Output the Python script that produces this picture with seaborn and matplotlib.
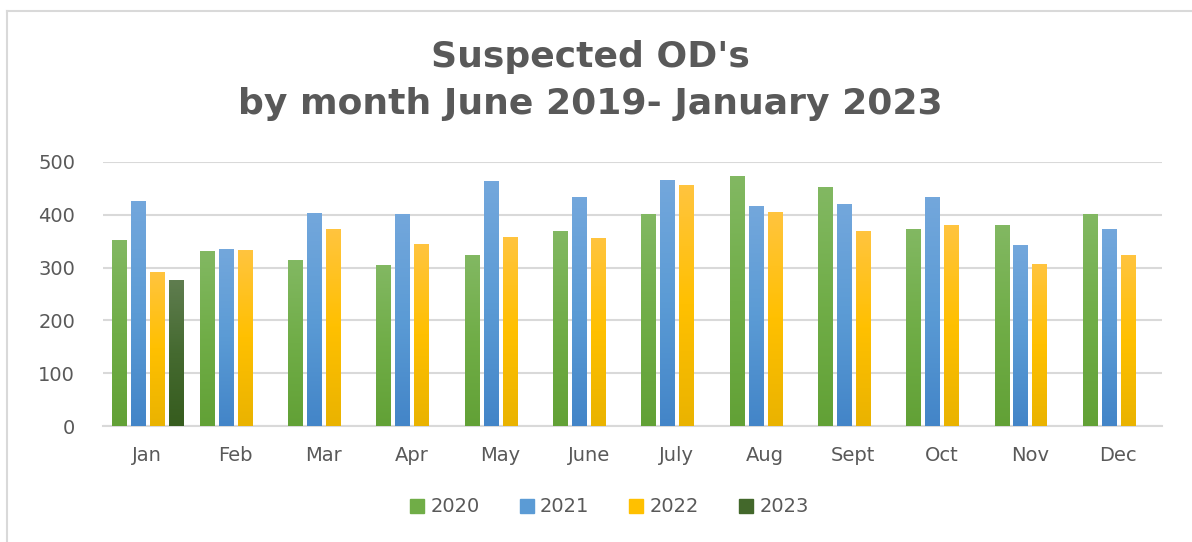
import numpy as np
import pandas as pd
import matplotlib
matplotlib.use('Agg')
import matplotlib.pyplot as plt
from matplotlib.colors import to_rgb
from matplotlib.lines import Line2D
import seaborn as sns

# Dados
meses = ['Jan', 'Feb', 'Mar', 'Apr', 'May', 'June', 'July', 'Aug', 'Sept', 'Oct', 'Nov', 'Dec']
anos = ['2020', '2021', '2022', '2023']
v2020 = [350, 329, 313, 304, 323, 367, 399, 471, 450, 371, 378, 399]
v2021 = [424, 334, 401, 399, 462, 431, 464, 415, 418, 431, 341, 371]
v2022 = [290, 332, 371, 343, 357, 355, 455, 404, 368, 378, 306, 323]
v2023 = [274]

cores = {'2020': '#70ad47', '2021': '#5b9bd5', '2022': '#ffc000', '2023': '#43682b'}
# gradiente (topo, meio, base) no estilo do Excel
gradientes = {
    '2020': ['#82b862', '#70ad47', '#62a136'],
    '2021': ['#73a7dc', '#5b9bd5', '#4385c8'],
    '2022': ['#ffc43e', '#ffc000', '#eab300'],
    '2023': ['#5f7d4f', '#456a30', '#365c1e'],
}

linhas = []
for serie, valores in zip(anos, [v2020, v2021, v2022, v2023]):
    for mes, v in zip(meses, valores):
        linhas.append({'mes': mes, 'ano': serie, 'valor': v})
df = pd.DataFrame(linhas)

cinza = '#595959'
fig = plt.figure(figsize=(11.92, 5.42), dpi=100)
ax = fig.add_axes([0.0864, 0.2135, 0.8888, 0.4882])

sns.barplot(data=df, x='mes', y='valor', hue='ano', order=meses, hue_order=anos,
            palette=cores, width=0.86, gap=0.26, dodge=True, ax=ax,
            legend=False, zorder=3, saturation=1)

# aplica gradiente vertical em cada barra
for bar in ax.patches:
    h = bar.get_height()
    if not np.isfinite(h) or h <= 0:
        continue
    rgb = np.array(to_rgb(bar.get_facecolor()))
    chave = min(cores, key=lambda k: np.abs(np.array(to_rgb(cores[k])) - rgb).sum())
    topo, meio, base = [np.array(to_rgb(c)) for c in gradientes[chave]]
    t = np.linspace(0, 1, 64)[:, None]
    grad = np.where(t < 0.5, topo + (meio - topo) * (t / 0.5), meio + (base - meio) * ((t - 0.5) / 0.5))
    img = grad[:, None, :]
    x0 = bar.get_x()
    ax.imshow(img, extent=[x0, x0 + bar.get_width(), 0, h], aspect='auto',
              origin='upper', zorder=4, interpolation='bilinear')

ax.set_xlim(-0.5, 11.5)
ax.set_ylim(0, 500)
ax.set_yticks([0, 100, 200, 300, 400, 500])
ax.grid(axis='y', color='#d9d9d9', linewidth=1.5, zorder=0)
ax.set_axisbelow(True)
for lado in ['top', 'right', 'left']:
    ax.spines[lado].set_visible(False)
ax.spines['bottom'].set_color('#d9d9d9')
ax.spines['bottom'].set_linewidth(1.5)
ax.tick_params(axis='both', length=0, labelsize=14, labelcolor=cinza)
ax.tick_params(axis='y', pad=20)
ax.tick_params(axis='x', pad=14)
ax.set_xlabel('')
ax.set_ylabel('')

fig.text(0.495, 1 - 57 / 542, "Suspected OD's", ha='center', va='center',
         fontsize=26, fontweight='bold', color=cinza)
fig.text(0.495, 1 - 104 / 542, 'by month June 2019- January 2023', ha='center', va='center',
         fontsize=26, fontweight='bold', color=cinza)

handles = [Line2D([], [], marker='s', linestyle='none', markersize=10,
                  markerfacecolor=cores[a], markeredgecolor=cores[a]) for a in anos]
fig.legend(handles, anos, loc='center', bbox_to_anchor=(609 / 1192, 1 - 507 / 542),
           ncol=4, frameon=False, fontsize=14, labelcolor=cinza,
           handletextpad=0.3, columnspacing=2.0, handlelength=0.8)

# moldura do gráfico (topo e esquerda)
fig.add_artist(Line2D([7 / 1192, 1], [1 - 11 / 542, 1 - 11 / 542], color='#d9d9d9', linewidth=1.5))
fig.add_artist(Line2D([7 / 1192, 7 / 1192], [0, 1 - 11 / 542], color='#d9d9d9', linewidth=1.5))

fig.savefig('out.png', dpi=100)
